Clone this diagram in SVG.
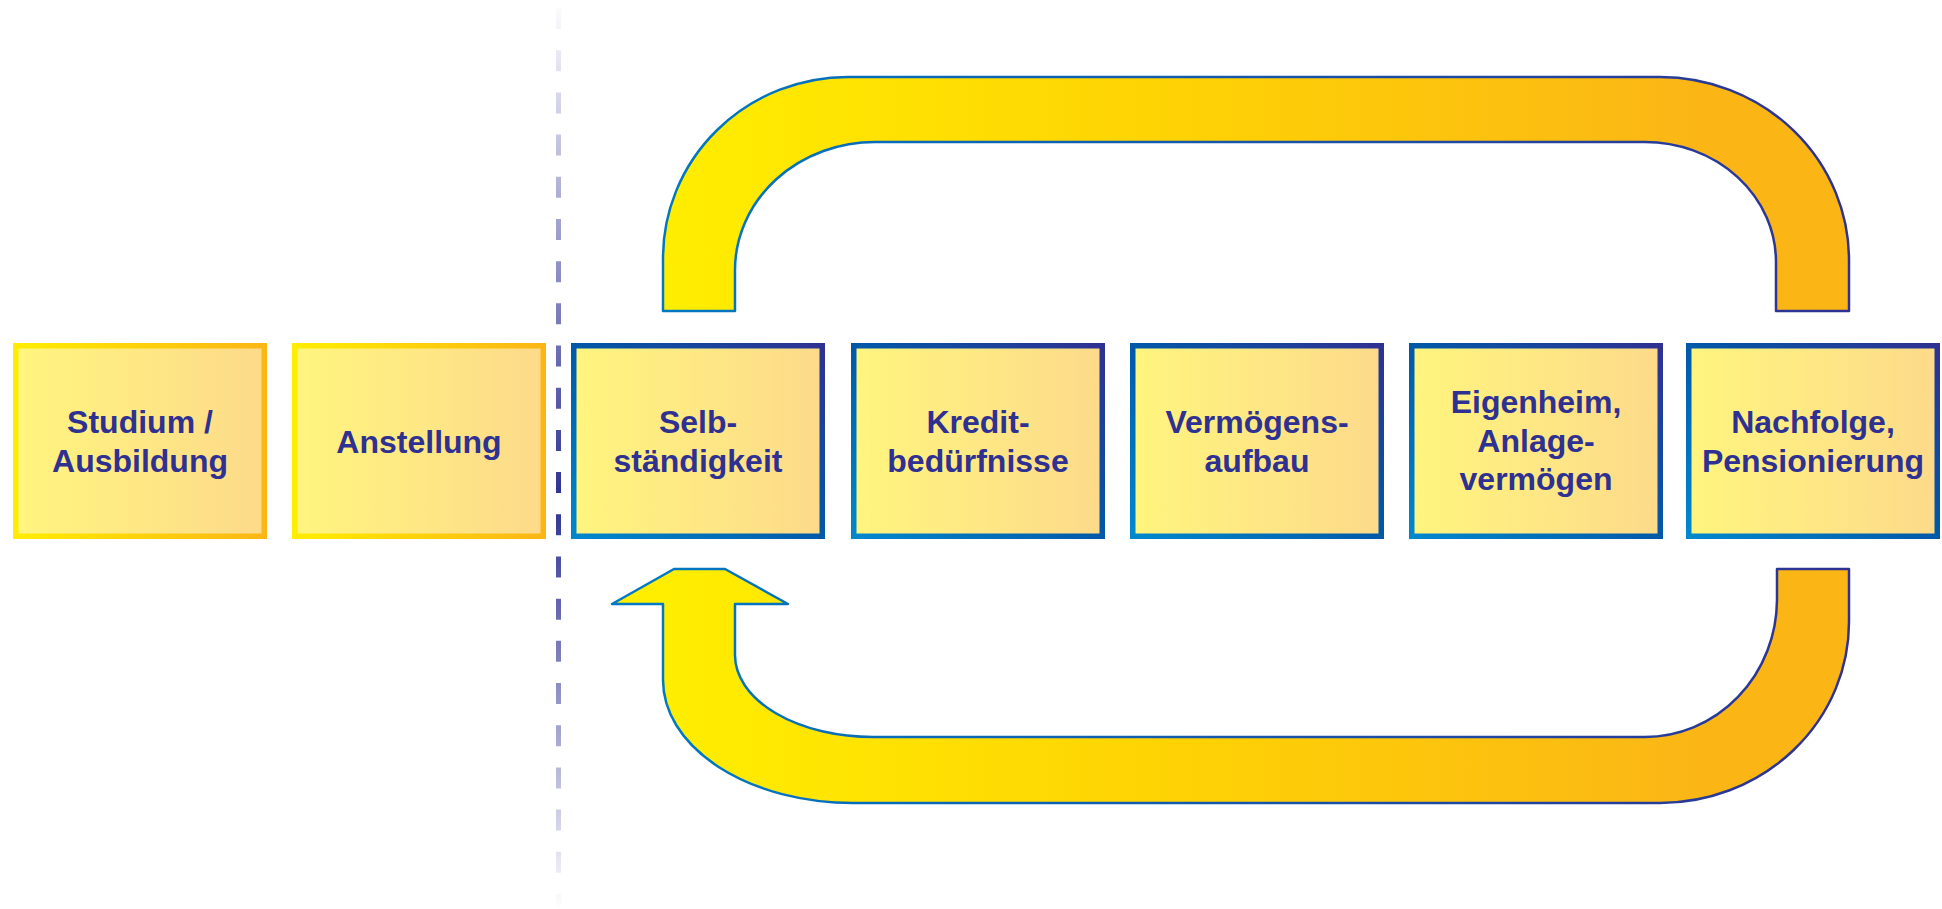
<svg xmlns="http://www.w3.org/2000/svg" width="1942" height="909" viewBox="0 0 1942 909">
  <defs>
    <linearGradient id="boxFill" x1="0" y1="0" x2="1" y2="0">
      <stop offset="0" stop-color="#FFF57E"/>
      <stop offset="1" stop-color="#FDDA8A"/>
    </linearGradient>
    <linearGradient id="yellowBorder" x1="0" y1="0" x2="1" y2="0">
      <stop offset="0" stop-color="#FFED00"/>
      <stop offset="1" stop-color="#FBB616"/>
    </linearGradient>
    <linearGradient id="blueBorder" x1="0" y1="1" x2="1" y2="0">
      <stop offset="0" stop-color="#0088CD"/>
      <stop offset="0.5" stop-color="#0059A8"/>
      <stop offset="1" stop-color="#2E3192"/>
    </linearGradient>
    <linearGradient id="bandFill" gradientUnits="userSpaceOnUse" x1="663" y1="0" x2="1700" y2="0">
      <stop offset="0" stop-color="#FFEE00"/>
      <stop offset="0.5" stop-color="#FED204"/>
      <stop offset="1" stop-color="#FBB616"/>
    </linearGradient>
    <linearGradient id="bandStroke" gradientUnits="userSpaceOnUse" x1="663" y1="0" x2="1849" y2="0">
      <stop offset="0" stop-color="#0079C2"/>
      <stop offset="1" stop-color="#2E3192"/>
    </linearGradient>
    <linearGradient id="dashGrad" gradientUnits="userSpaceOnUse" x1="0" y1="0" x2="0" y2="909">
      <stop offset="0" stop-color="#2E3192" stop-opacity="0"/>
      <stop offset="0.55" stop-color="#2E3192" stop-opacity="1"/>
      <stop offset="1" stop-color="#2E3192" stop-opacity="0"/>
    </linearGradient>
  </defs>
  <style>
    .box { fill: url(#boxFill); stroke-width: 5.5; }
    .pre { stroke: url(#yellowBorder); }
    .main { stroke: url(#blueBorder); }
    .lbl { font-family: "Liberation Sans", Arial, sans-serif; font-weight: bold; font-size: 32px; fill: #2E3192; text-anchor: middle; }
    .band { fill: url(#bandFill); stroke: url(#bandStroke); stroke-width: 2.5; stroke-linejoin: round; }
  </style>

  <rect width="1942" height="909" fill="#FFFFFF"/>

  <g id="connectors">
    <line id="divider" x1="558.5" y1="8" x2="558.5" y2="909" stroke="url(#dashGrad)" stroke-width="5" stroke-dasharray="21 21.19"/>
    <path id="top-band" class="band" d="M 663,311 L 663,258 A 185 181 0 0 1 848,77 L 1660,77 A 189 183 0 0 1 1849,260 L 1849,311 L 1776,311 L 1776,262 A 131 120 0 0 0 1645,142 L 875,142 A 140 128 0 0 0 735,270 L 735,311 Z"/>
    <path id="bottom-arrow" class="band" d="M 674,569 L 725,569 L 788,604 L 735,604 L 735,655 A 138 82 0 0 0 873,737 L 1645,737 A 132 138 0 0 0 1777,600 L 1777,569 L 1849,569 L 1849,622 A 189 181 0 0 1 1660,803 L 853,803 A 190 123 0 0 1 663,680 L 663,604 L 612,604 Z"/>
  </g>

  <g id="node-studium">
    <rect class="box pre" x="15.75" y="345.75" width="248.5" height="190.5"/>
    <text class="lbl" x="140" y="433">Studium /</text>
    <text class="lbl" x="140" y="472">Ausbildung</text>
  </g>
  <g id="node-anstellung">
    <rect class="box pre" x="294.75" y="345.75" width="248.5" height="190.5"/>
    <text class="lbl" x="419" y="453">Anstellung</text>
  </g>
  <g id="node-selbstaendigkeit">
    <rect class="box main" x="573.75" y="345.75" width="248.5" height="190.5"/>
    <text class="lbl" x="698" y="433">Selb-</text>
    <text class="lbl" x="698" y="472">ständigkeit</text>
  </g>
  <g id="node-kredit">
    <rect class="box main" x="853.75" y="345.75" width="248.5" height="190.5"/>
    <text class="lbl" x="978" y="433">Kredit-</text>
    <text class="lbl" x="978" y="472">bedürfnisse</text>
  </g>
  <g id="node-vermoegen">
    <rect class="box main" x="1132.75" y="345.75" width="248.5" height="190.5"/>
    <text class="lbl" x="1257" y="433">Vermögens-</text>
    <text class="lbl" x="1257" y="472">aufbau</text>
  </g>
  <g id="node-eigenheim">
    <rect class="box main" x="1411.75" y="345.75" width="248.5" height="190.5"/>
    <text class="lbl" x="1536" y="413">Eigenheim,</text>
    <text class="lbl" x="1536" y="452">Anlage-</text>
    <text class="lbl" x="1536" y="490">vermögen</text>
  </g>
  <g id="node-nachfolge">
    <rect class="box main" x="1688.75" y="345.75" width="248.5" height="190.5"/>
    <text class="lbl" x="1813" y="433">Nachfolge,</text>
    <text class="lbl" x="1813" y="472">Pensionierung</text>
  </g>
</svg>
